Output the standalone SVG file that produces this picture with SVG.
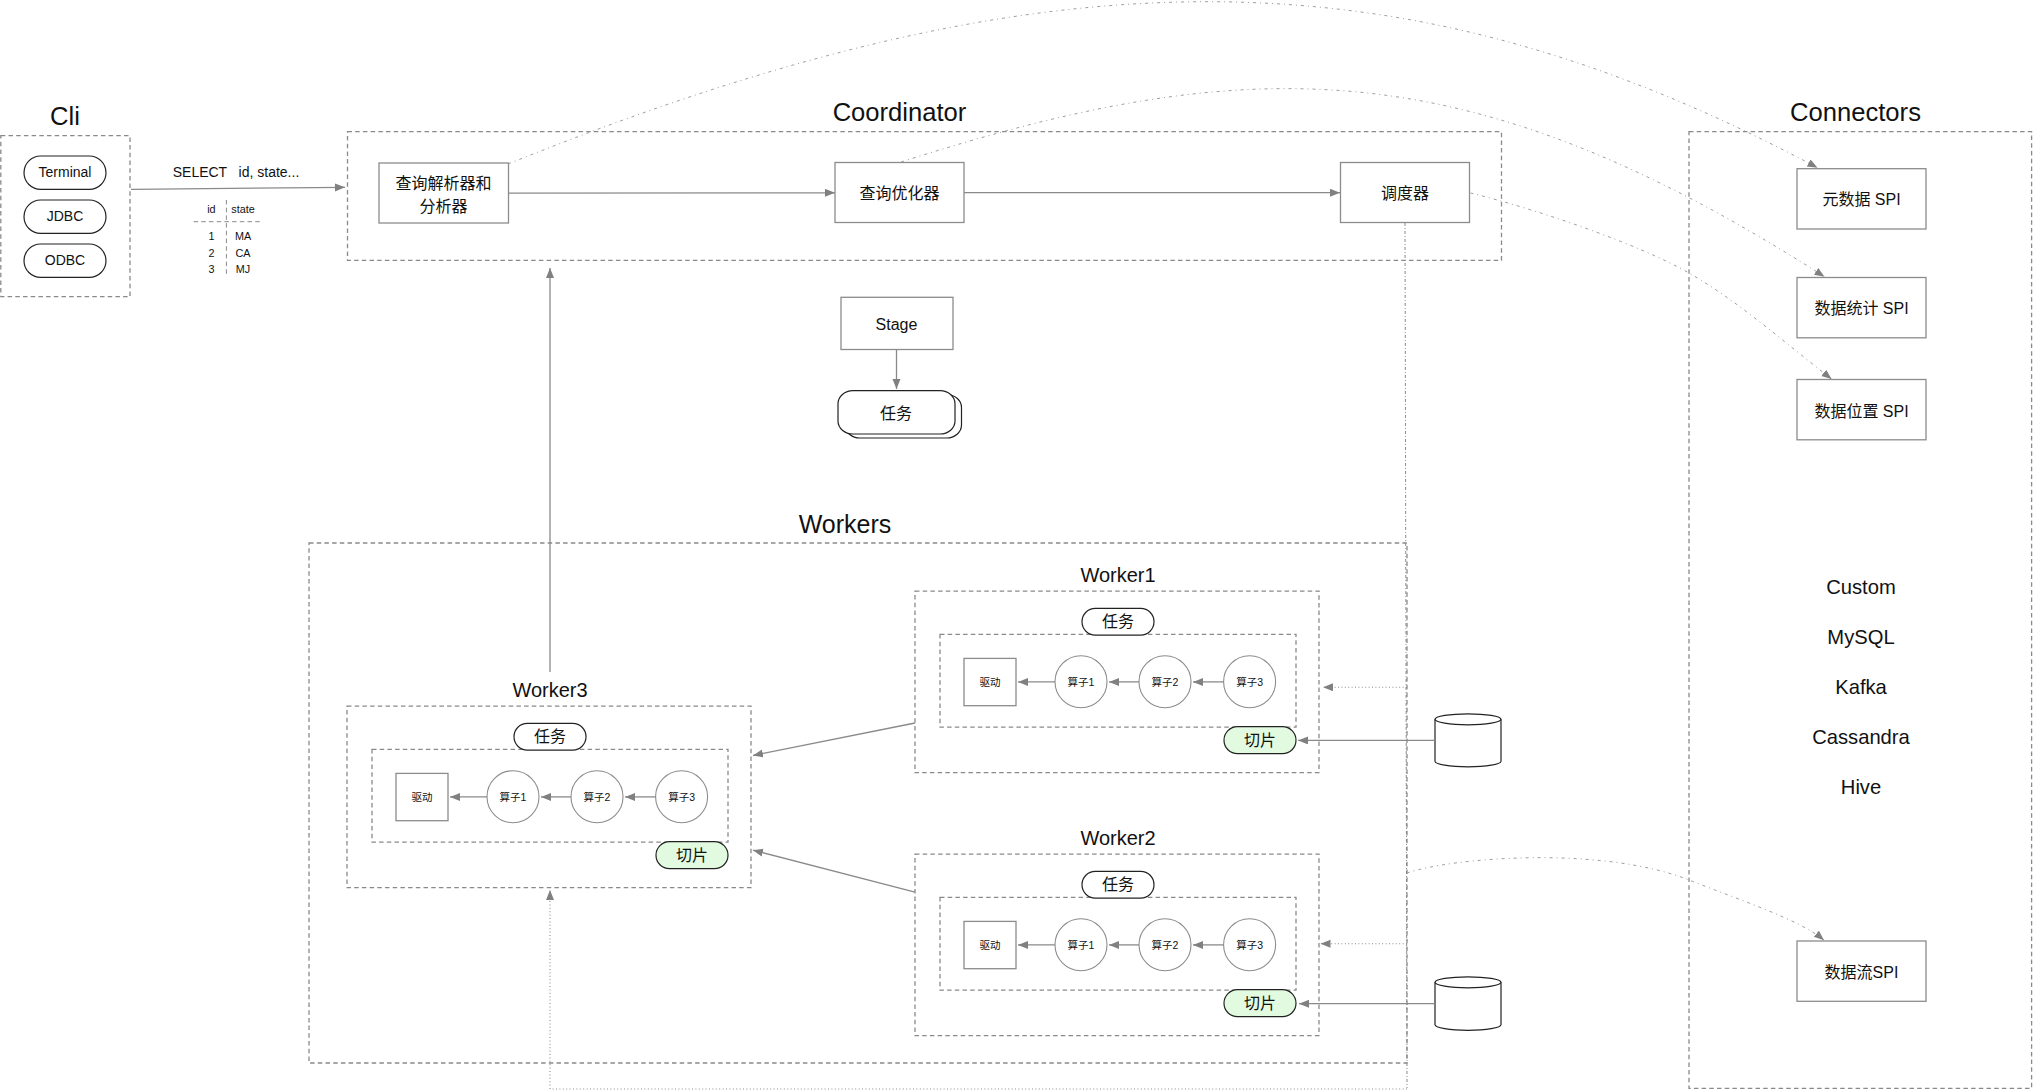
<svg xmlns="http://www.w3.org/2000/svg" width="2033" height="1091" viewBox="0 0 2033 1091">
<defs>
<style>
text{font-family:"Liberation Sans","Noto Sans CJK SC",sans-serif;fill:#111;text-anchor:middle}
.dash{fill:none;stroke:#8a8a8a;stroke-width:1.3;stroke-dasharray:4.5 3.2}
.box{fill:#fff;stroke:#8c8c8c;stroke-width:1.3}
.pill{fill:#fff;stroke:#222;stroke-width:1.2}
.split{fill:#e2fbe0;stroke:#222;stroke-width:1.2}
.op{fill:#fff;stroke:#8c8c8c;stroke-width:1.1}
.cyl{fill:#fff;stroke:#222;stroke-width:1.2}
.arr{fill:none;stroke:#8a8a8a;stroke-width:1.3;marker-end:url(#ah)}
.dd{fill:none;stroke:#999;stroke-width:.95;stroke-dasharray:3 4 1 4;marker-end:url(#ah)}
.vd{fill:none;stroke:#8a8a8a;stroke-width:1;stroke-dasharray:3 2 1 2}
.dot{fill:none;stroke:#8a8a8a;stroke-width:1.1;stroke-dasharray:1 2.4}
.doth{fill:none;stroke:#8a8a8a;stroke-width:1.1;stroke-dasharray:1 2.4;marker-end:url(#ah)}
.t26{font-size:25.6px}
.t25{font-size:25px}
.t19{font-size:20.2px}
.t20{font-size:20px}
.t16{font-size:16px}
.t13{font-size:14px}
.t11{font-size:10.8px}
.t10{font-size:10.5px}
</style>
<marker id="ah" markerUnits="userSpaceOnUse" markerWidth="11" markerHeight="9" refX="10" refY="4" orient="auto"><path d="M0,0L10,4L0,8Z" fill="#808080"/></marker>
</defs>
<rect width="2033" height="1091" fill="#fff"/>

<g id="cli">
<rect class="dash" x="0.8" y="135.7" width="129.2" height="161"/>
<text class="t26" x="65" y="125">Cli</text>
<rect class="pill" x="24" y="156" width="82" height="33.4" rx="16.7"/><text class="t13" x="65" y="177.2">Terminal</text>
<rect class="pill" x="24" y="200" width="82" height="33.4" rx="16.7"/><text class="t13" x="65" y="221.2">JDBC</text>
<rect class="pill" x="24" y="244" width="82" height="33.4" rx="16.7"/><text class="t13" x="65" y="265.2">ODBC</text>
</g>

<g id="query-result">
<text class="t13" x="236" y="177.2" style="white-space:pre">SELECT   id, state...</text>
<path class="dash" d="M193.6,221.7H262.5M226.4,200V276" style="stroke-width:1"/>
<text class="t11" x="211.4" y="213.3">id</text><text class="t11" x="243" y="213.3">state</text>
<text class="t11" x="211.4" y="240">1</text><text class="t11" x="243" y="240">MA</text>
<text class="t11" x="211.4" y="256.7">2</text><text class="t11" x="243" y="256.7">CA</text>
<text class="t11" x="211.4" y="272.7">3</text><text class="t11" x="243" y="272.7">MJ</text>
</g>

<g id="coordinator">
<rect class="dash" x="347.5" y="131.7" width="1154" height="128.6"/>
<text class="t26" x="899.5" y="121">Coordinator</text>
</g>
<g id="parser"><rect class="box" x="379" y="163" width="129.5" height="60"/>
<text class="t16" x="443.5" y="189.2">查询解析器和</text><text class="t16" x="443.5" y="211.9">分析器</text></g>
<g id="optimizer"><rect class="box" x="835" y="162.5" width="129" height="60"/><text class="t16" x="899.5" y="199">查询优化器</text></g>
<g id="scheduler"><rect class="box" x="1340.5" y="162.5" width="129" height="60"/><text class="t16" x="1405" y="199">调度器</text></g>

<g id="stage"><rect class="box" x="841" y="297.3" width="112" height="52.2"/><text class="t16" x="896.5" y="330">Stage</text></g>
<g id="stage-task">
<rect class="pill" x="845" y="394.5" width="116.5" height="43.5" rx="15" ry="13"/>
<rect class="pill" x="838" y="390.7" width="117" height="43.3" rx="15" ry="13"/>
<text class="t16" x="896" y="418.6">任务</text></g>

<g id="connectors-box">
<rect class="dash" x="1689" y="131.7" width="342.6" height="956.6"/>
<text class="t26" x="1855.5" y="120.5">Connectors</text>
<text class="t19" x="1861" y="594">Custom</text>
<text class="t19" x="1861" y="644.2">MySQL</text>
<text class="t19" x="1861" y="693.8">Kafka</text>
<text class="t19" x="1861" y="744.2">Cassandra</text>
<text class="t19" x="1861" y="793.8">Hive</text>
</g>
<g id="spi-metadata"><rect class="box" x="1797" y="168.7" width="129" height="60.3"/><text class="t16" x="1861.5" y="205">元数据 SPI</text></g>
<g id="spi-stats"><rect class="box" x="1797" y="277.5" width="129" height="60.3"/><text class="t16" x="1861.5" y="314">数据统计 SPI</text></g>
<g id="spi-location"><rect class="box" x="1797" y="379.5" width="129" height="60.3"/><text class="t16" x="1861.5" y="416.5">数据位置 SPI</text></g>
<g id="spi-stream"><rect class="box" x="1797" y="941" width="129" height="60.3"/><text class="t16" x="1861.5" y="977.6">数据流SPI</text></g>

<g id="workers">
<rect class="dash" x="309" y="543" width="1098" height="520"/>
<text class="t25" x="845" y="532.5">Workers</text>
</g>

<g id="worker3" transform="translate(0,-0.6)">
<rect class="dash" x="347" y="706.7" width="404" height="181.6"/>
<text class="t20" x="550" y="697.7">Worker3</text>
<rect class="dash" x="372" y="750" width="356" height="92.7"/>
<rect class="pill" x="514" y="724" width="72" height="26.7" rx="13.3"/><text class="t16" x="550" y="743">任务</text>
<rect class="box" x="396" y="774" width="52" height="47.3"/><text class="t10" x="422" y="801.5">驱动</text>
<circle class="op" cx="513" cy="797.3" r="26"/><text class="t10" x="513" y="801.5">算子1</text>
<circle class="op" cx="597" cy="797.3" r="26"/><text class="t10" x="597" y="801.5">算子2</text>
<circle class="op" cx="681.6" cy="797.3" r="26"/><text class="t10" x="681.6" y="801.5">算子3</text>
<rect class="split" x="656" y="842.3" width="72" height="27" rx="13.5"/><text class="t16" x="692" y="861.5">切片</text>
</g>
<g id="worker1" transform="translate(568,-115.6)">
<rect class="dash" x="347" y="706.7" width="404" height="181.6"/>
<text class="t20" x="550" y="697.7">Worker1</text>
<rect class="dash" x="372" y="750" width="356" height="92.7"/>
<rect class="pill" x="514" y="724" width="72" height="26.7" rx="13.3"/><text class="t16" x="550" y="743">任务</text>
<rect class="box" x="396" y="774" width="52" height="47.3"/><text class="t10" x="422" y="801.5">驱动</text>
<circle class="op" cx="513" cy="797.3" r="26"/><text class="t10" x="513" y="801.5">算子1</text>
<circle class="op" cx="597" cy="797.3" r="26"/><text class="t10" x="597" y="801.5">算子2</text>
<circle class="op" cx="681.6" cy="797.3" r="26"/><text class="t10" x="681.6" y="801.5">算子3</text>
<rect class="split" x="656" y="842.3" width="72" height="27" rx="13.5"/><text class="t16" x="692" y="861.5">切片</text>
</g>
<g id="worker2" transform="translate(568,147.4)">
<rect class="dash" x="347" y="706.7" width="404" height="181.6"/>
<text class="t20" x="550" y="697.7">Worker2</text>
<rect class="dash" x="372" y="750" width="356" height="92.7"/>
<rect class="pill" x="514" y="724" width="72" height="26.7" rx="13.3"/><text class="t16" x="550" y="743">任务</text>
<rect class="box" x="396" y="774" width="52" height="47.3"/><text class="t10" x="422" y="801.5">驱动</text>
<circle class="op" cx="513" cy="797.3" r="26"/><text class="t10" x="513" y="801.5">算子1</text>
<circle class="op" cx="597" cy="797.3" r="26"/><text class="t10" x="597" y="801.5">算子2</text>
<circle class="op" cx="681.6" cy="797.3" r="26"/><text class="t10" x="681.6" y="801.5">算子3</text>
<rect class="split" x="656" y="842.3" width="72" height="27" rx="13.5"/><text class="t16" x="692" y="861.5">切片</text>
</g>

<g id="db1"><path class="cyl" d="M1435,719.3A33,5.5 0 0 1 1501,719.3V761.3A33,5.5 0 0 1 1435,761.3Z"/><path class="cyl" style="fill:none" d="M1435,719.3A33,5.5 0 0 0 1501,719.3"/></g>
<g id="db2"><path class="cyl" d="M1435,982.3A33,5.5 0 0 1 1501,982.3V1024.8A33,5.5 0 0 1 1435,1024.8Z"/><path class="cyl" style="fill:none" d="M1435,982.3A33,5.5 0 0 0 1501,982.3"/></g>

<g id="connectors">
<path class="arr" d="M131,189.3L345,187.3"/>
<path class="arr" d="M508.5,193.2L835,192.8"/>
<path class="arr" d="M964,192.7H1340"/>
<path class="arr" d="M896.5,350V389"/>
<path class="arr" d="M550,672V268"/>
<path class="arr" d="M915,723L753,755.5"/>
<path class="arr" d="M915,892.2L753,850.2"/>
<path class="arr" d="M1434.7,740.4H1298"/>
<path class="arr" d="M1434.7,1003.7H1299"/>
<path class="arr" d="M655.6,796.9H625"/><path class="arr" d="M571,796.9H541"/><path class="arr" d="M487,796.9H450"/>
<path class="arr" d="M1223.6,681.9H1193"/><path class="arr" d="M1139,681.9H1109"/><path class="arr" d="M1055,681.9H1018"/>
<path class="arr" d="M1223.6,944.9H1193"/><path class="arr" d="M1139,944.9H1109"/><path class="arr" d="M1055,944.9H1018"/>
<path class="dd" d="M508,164C1050,-54 1405,-52 1817.5,167.7"/>
<path class="dd" d="M901,162C1251,50 1470,50 1824.5,276.7"/>
<path class="dd" d="M1470.6,193C1540,210 1640,245 1689,273C1738,301 1785,343 1831.6,379"/>
<path class="dd" d="M1407,873C1450,858 1600,845 1689,880C1745,902 1800,920 1824,940.2"/>
<path class="vd" d="M1405,223L1407,1088"/>
<path class="dot" d="M1407,1089H552"/>
<path class="doth" d="M550,1089V890"/>
<path class="doth" d="M1407,687.2H1323"/>
<path class="doth" d="M1407,943.8H1320.5"/>
</g>
</svg>
